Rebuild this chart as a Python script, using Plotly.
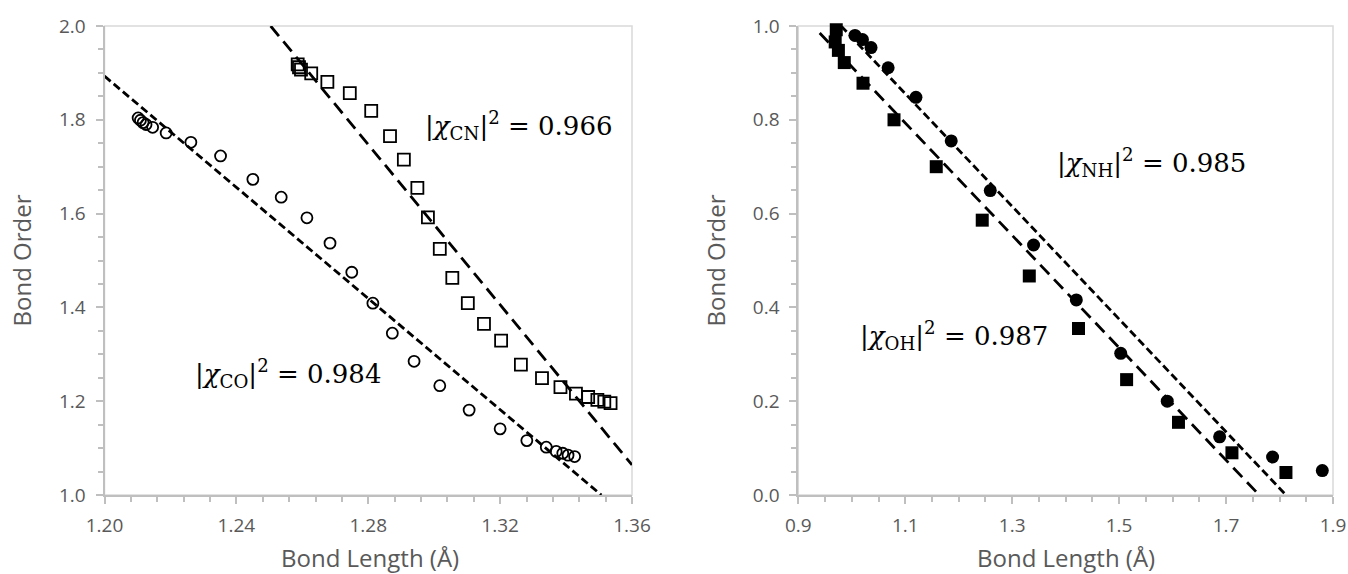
import plotly.graph_objects as go

# ---------------- data ----------------
co_x = [1.2102, 1.2109, 1.2117, 1.2126, 1.2146, 1.2187, 1.2262, 1.2352, 1.2450, 1.2536,
        1.2614, 1.2684, 1.2750, 1.2814, 1.2873, 1.2939, 1.3017, 1.3106, 1.3200, 1.3281,
        1.3340, 1.3370, 1.3390, 1.3406, 1.3426]
co_y = [1.804, 1.799, 1.794, 1.790, 1.784, 1.772, 1.752, 1.723, 1.673, 1.635,
        1.591, 1.537, 1.475, 1.409, 1.345, 1.285, 1.233, 1.181, 1.141, 1.116,
        1.102, 1.093, 1.089, 1.085, 1.082]

cn_x = [1.2586, 1.2590, 1.2596, 1.2627, 1.2676, 1.2744, 1.2809, 1.2866, 1.2908, 1.2949,
        1.2981, 1.3017, 1.3055, 1.3102, 1.3151, 1.3203, 1.3263, 1.3327, 1.3383, 1.3430,
        1.3467, 1.3495, 1.3516, 1.3535]
cn_y = [1.918, 1.912, 1.907, 1.899, 1.881, 1.857, 1.819, 1.765, 1.715, 1.655,
        1.592, 1.525, 1.463, 1.409, 1.365, 1.329, 1.278, 1.249, 1.230, 1.216,
        1.209, 1.203, 1.199, 1.196]

nh_x = [1.006, 1.020, 1.036, 1.068, 1.120, 1.186, 1.259, 1.340, 1.420, 1.503,
        1.590, 1.688, 1.787, 1.880]
nh_y = [0.980, 0.971, 0.954, 0.911, 0.848, 0.755, 0.649, 0.533, 0.416, 0.302,
        0.200, 0.124, 0.081, 0.052]

oh_x = [0.971, 0.969, 0.975, 0.986, 1.021, 1.079, 1.158, 1.244, 1.332, 1.424,
        1.514, 1.611, 1.711, 1.812]
oh_y = [0.992, 0.966, 0.948, 0.922, 0.878, 0.800, 0.700, 0.586, 0.467, 0.355,
        0.246, 0.155, 0.090, 0.048]

# linear trend lines (end points, data units)
co_fit_x = [1.200, 1.3507]
co_fit_y = [1.893, 1.000]
cn_fit_x = [1.2504, 1.360]
cn_fit_y = [2.000, 1.064]
nh_fit_x = [0.980, 1.812]
nh_fit_y = [1.000, 0.000]
oh_fit_x = [0.940, 1.762]
oh_fit_y = [0.985, 0.000]

labels = {
    "co": "|<i>χ</i><sub>CO</sub>|<sup>2</sup> = 0.984",
    "cn": "|<i>χ</i><sub>CN</sub>|<sup>2</sup> = 0.966",
    "nh": "|<i>χ</i><sub>NH</sub>|<sup>2</sup> = 0.985",
    "oh": "|<i>χ</i><sub>OH</sub>|<sup>2</sup> = 0.987",
}
label_pos = {
    "co": ("x", "y", 1.2269, 1.260),
    "cn": ("x", "y", 1.2967, 1.787),
    "nh": ("x2", "y2", 1.380, 0.709),
    "oh": ("x2", "y2", 1.012, 0.341),
}
x_title = "Bond Length (Å)"
y_title = "Bond Order"

# ---------------- layout geometry ----------------
W, H = 1348, 574
def px(v):
    return v / W
def py(v):
    return 1 - v / H

AX = "#bfbfbf"
TXT = "#595959"
TICKFONT = dict(family="Open Sans", size=19, color=TXT)

fig = go.Figure()

# markers
fig.add_trace(go.Scatter(x=co_x, y=co_y, mode="markers", xaxis="x", yaxis="y",
                         marker=dict(symbol="circle-open", size=11, color="black",
                                     line=dict(width=1.8, color="black")),
                         cliponaxis=False, showlegend=False))
fig.add_trace(go.Scatter(x=cn_x, y=cn_y, mode="markers", xaxis="x", yaxis="y",
                         marker=dict(symbol="square-open", size=12, color="black",
                                     line=dict(width=1.8, color="black")),
                         cliponaxis=False, showlegend=False))
fig.add_trace(go.Scatter(x=nh_x, y=nh_y, mode="markers", xaxis="x2", yaxis="y2",
                         marker=dict(symbol="circle", size=13, color="black"),
                         cliponaxis=False, showlegend=False))
fig.add_trace(go.Scatter(x=oh_x, y=oh_y, mode="markers", xaxis="x2", yaxis="y2",
                         marker=dict(symbol="square", size=13, color="black"),
                         cliponaxis=False, showlegend=False))

# trend lines
fig.add_trace(go.Scatter(x=co_fit_x, y=co_fit_y, mode="lines", xaxis="x", yaxis="y",
                         line=dict(color="black", width=2.8, dash="8px,4px"), showlegend=False))
fig.add_trace(go.Scatter(x=cn_fit_x, y=cn_fit_y, mode="lines", xaxis="x", yaxis="y",
                         line=dict(color="black", width=2.8, dash="13px,7px"), showlegend=False))
fig.add_trace(go.Scatter(x=nh_fit_x, y=nh_fit_y, mode="lines", xaxis="x2", yaxis="y2",
                         line=dict(color="black", width=2.8, dash="8px,4px"), showlegend=False))
fig.add_trace(go.Scatter(x=oh_fit_x, y=oh_fit_y, mode="lines", xaxis="x2", yaxis="y2",
                         line=dict(color="black", width=2.8, dash="13px,7px"), showlegend=False))

def xax(domain, rng, dtick, tick0, minor_dtick, fmt):
    return dict(domain=domain, range=rng, dtick=dtick, tick0=tick0, tickformat=fmt,
                showgrid=False, zeroline=False, showline=True, linecolor=AX, linewidth=2,
                ticks="outside", ticklen=7, tickwidth=2, tickcolor=AX,
                minor=dict(dtick=minor_dtick, tick0=tick0, ticks="outside", ticklen=5,
                           tickwidth=2, tickcolor=AX, showgrid=False),
                tickfont=TICKFONT, ticklabelstandoff=5, automargin=False, fixedrange=True)

def yax(domain, rng, anchor, fmt):
    return dict(domain=domain, range=rng, anchor=anchor, dtick=0.2, tickformat=fmt,
                showgrid=False, zeroline=False, showline=True, linecolor=AX, linewidth=2,
                ticks="outside", ticklen=7, tickwidth=2, tickcolor=AX,
                minor=dict(dtick=0.05, ticks="outside", ticklen=5,
                           tickwidth=2, tickcolor=AX, showgrid=False),
                tickfont=TICKFONT, ticklabelstandoff=6, automargin=False, fixedrange=True)

ydom = [py(495), py(26)]
fig.update_layout(
    width=W, height=H,
    margin=dict(l=0, r=0, t=0, b=0),
    paper_bgcolor="white", plot_bgcolor="white",
    xaxis=dict(xax([px(104.5), px(632)], [1.20, 1.36], 0.04, 1.20, 0.008, ".2f"), anchor="y"),
    yaxis=yax(ydom, [1.0, 2.0], "x", ".1f"),
    xaxis2=dict(xax([px(798.3), px(1333)], [0.9, 1.9], 0.2, 0.9, 0.05, ".1f"), anchor="y2"),
    yaxis2=yax(ydom, [0.0, 1.0], "x2", ".1f"),
)

# plot-area borders (top/right light lines)
for xr, yr in (("x", "y"), ("x2", "y2")):
    fig.add_shape(type="rect", xref=f"{xr} domain", yref=f"{yr} domain",
                  x0=0, x1=1, y0=0, y1=1, line=dict(color="#d9d9d9", width=1.5),
                  layer="below")

# equation labels
for key, text in labels.items():
    xr, yr, xv, yv = label_pos[key]
    fig.add_annotation(x=xv, y=yv, xref=xr, yref=yr, text=text, showarrow=False,
                       xanchor="left", yanchor="middle",
                       font=dict(family="DejaVu Serif", size=26, color="black"))

# axis titles
TFONT = dict(family="Open Sans", size=24, color=TXT)
for cx in (370, 1066):
    fig.add_annotation(x=px(cx), y=py(557), xref="paper", yref="paper", text=x_title,
                       showarrow=False, xanchor="center", yanchor="middle", font=TFONT)
for cx in (21.5, 715.5):
    fig.add_annotation(x=px(cx), y=py(261), xref="paper", yref="paper", text=y_title,
                       showarrow=False, xanchor="center", yanchor="middle", textangle=-90,
                       font=TFONT)

fig.write_html(
    "out.html",
    config={"displayModeBar": False},
    post_script="document.body.style.margin='0';document.body.style.overflow='hidden';",
)
